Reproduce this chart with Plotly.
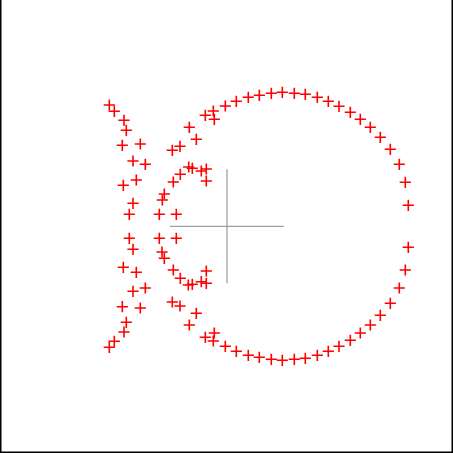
import plotly.graph_objects as go

# Point positions (offsets from the centre cross, in plot units; y up)
x_vals = [
    # left tail / fins (top half)
    -117.7, -112.7, -103, -100.7, -104.7, -86.7, -94, -81.7, -90.7, -103.7, -94, -97.7,
    -67.7, -50.7, -64.7, -62.7, -53.7, -46.7, -38.3, -34.7, -25.7, -20.7, -20.7,
    -54.7, -47, -30.7, -37.7, -21.7, -13.7, -12.7, -1.7, 9.3,
    # top arc
    21.3, 32.3, 44.3, 55.3, 67.3, 78.3, 90.3, 101.3, 112, 123.3, 133.3, 143.3,
    153.3, 163.3, 172.3, 178.3, 181.3,
    # bottom arc
    181.3, 178.3, 172.3, 163.3, 153.3, 143.3, 133.3, 123.3, 112, 101.3, 90.3,
    78.3, 67.3, 55.3, 44.3, 32.3, 21.3, 9.3,
    # left tail / fins (bottom half)
    -97.7, -67.7, -50.7, -94, -65, -62.7, -103.7, -90.7, -53.7, -46.7, -20.7,
    -38.7, -34.7, -25.7, -20.7, -94, -81.7, -104.7, -86.7, -54.7, -47, -30.7,
    -100.7, -37.7, -103, -21.7, -12.7, -13.7, -112.7, -117.7, -1.7,
]
y_vals = [
    121.3, 115, 106, 96, 81, 82.3, 65.3, 62, 46.3, 41, 23, 12,
    12, 12, 26.3, 32.3, 44.3, 52, 59.3, 58, 55.3, 57.3, 45.3,
    76, 80, 87, 99, 111, 115.3, 107, 120.3, 125,
    129, 131, 133, 134, 133, 132, 129, 125, 120, 114, 107, 99,
    89, 77, 62, 44, 21,
    -21, -43.7, -61.7, -77, -89, -98.7, -106.7, -114, -120, -125, -129,
    -132, -133, -134, -133, -131, -129, -125,
    -12, -12, -12, -23, -25.7, -32, -41, -46, -43.7, -52, -44.7,
    -58.7, -58, -55.4, -57, -65, -61.7, -80.4, -81.7, -75.7, -79.7, -87,
    -96, -98.7, -105.7, -111, -106.7, -114.7, -115, -121, -120,
]

cross_half = [-57, 57]

fig = go.Figure()
fig.add_trace(go.Scatter(
    x=x_vals, y=y_vals, mode="markers",
    marker=dict(symbol="cross-thin", size=8, color="rgba(0,0,0,0)",
                line=dict(color="#ff0000", width=1.6)),
    hoverinfo="skip", showlegend=False,
))

# centre cross
fig.add_shape(type="line", xref="x", yref="y", x0=cross_half[0], x1=cross_half[1], y0=0, y1=0,
              line=dict(color="#a0a0a0", width=1.3))
fig.add_shape(type="line", xref="x", yref="y", x0=0, x1=0, y0=cross_half[0], y1=cross_half[1],
              line=dict(color="#a0a0a0", width=1.3))

# frame (left, right, bottom)
for (x0, y0, x1, y1) in [(0, 0, 0, 1), (1, 0, 1, 1), (0, 0, 1, 0)]:
    fig.add_shape(type="line", xref="paper", yref="paper", x0=x0, y0=y0, x1=x1, y1=y1,
                  line=dict(color="black", width=3))

fig.update_layout(
    width=453, height=453,
    margin=dict(l=0, r=0, t=0, b=0),
    paper_bgcolor="white", plot_bgcolor="white",
    xaxis=dict(range=[-227, 226], visible=False, fixedrange=True),
    yaxis=dict(range=[-226.7, 226.3], visible=False, fixedrange=True),
)

fig.write_html("out.html", config={"displayModeBar": False},
               post_script="document.body.style.margin='0';document.body.style.overflow='hidden';")
